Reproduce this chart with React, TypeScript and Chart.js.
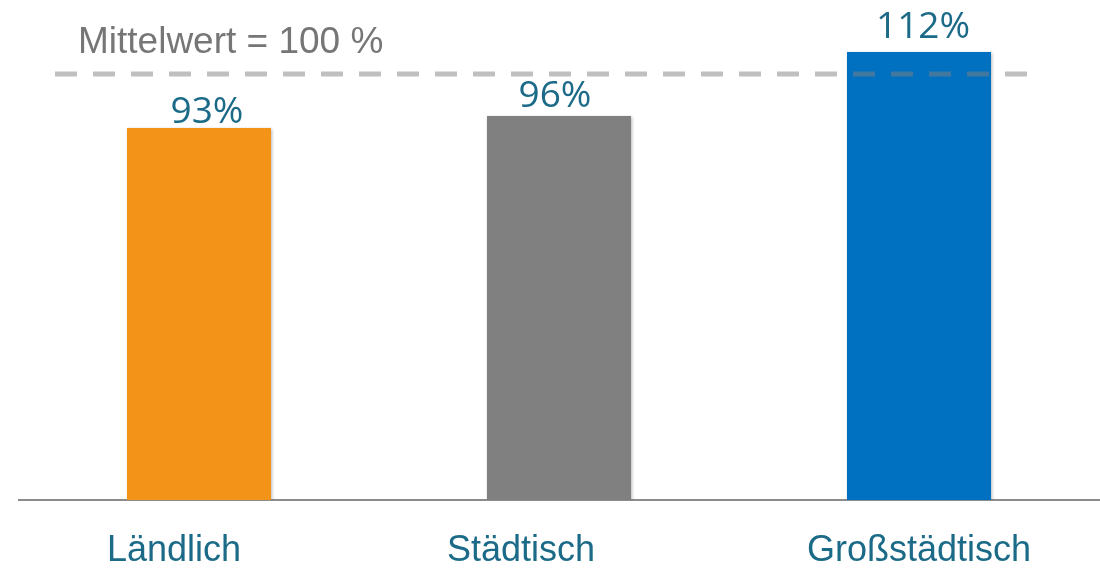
import React, { useEffect, useRef } from "react";
import { Chart, registerables } from "chart.js";

Chart.register(...registerables);

// ---- data ----
const categories = ["Ländlich", "Städtisch", "Großstädtisch"];
const values = [93, 96, 112];
const valueLabels = ["93%", "96%", "112%"];
const meanLabel = "Mittelwert = 100 %";
// the reference line is drawn at this height of the value axis
const meanLineValue = 106.5;
const yMin = 0;
const yMax = 125;

// ---- styles ----
const barColors = ["#F39419", "#808080", "#0070C0"];
const tealText = "#1B6A88";
const valueLabelGaps = [5, 9, 14];
const valueLabelShifts = [8, -4, 4];
const categoryLabelShifts = [-25, -38, 0];

const overlayPlugin = {
  id: "overlay",
  beforeDatasetsDraw(chart: any) {
    const ctx = chart.ctx;
    ctx.save();
    ctx.shadowColor = "rgba(0,0,0,0.28)";
    ctx.shadowBlur = 3;
    ctx.shadowOffsetX = 1;
    ctx.shadowOffsetY = 1;
  },
  afterDatasetsDraw(chart: any) {
    const ctx = chart.ctx;
    ctx.restore();
    const area = chart.chartArea;
    const y = chart.scales.y.getPixelForValue(meanLineValue);
    // dashed mean line on top of bars
    ctx.save();
    ctx.strokeStyle = "rgba(128,128,128,0.5)";
    ctx.lineWidth = 5;
    ctx.setLineDash([22, 16]);
    ctx.beginPath();
    ctx.moveTo(area.left + 36, y);
    ctx.lineTo(area.right - 70, y);
    ctx.stroke();
    ctx.restore();

    // mean label
    ctx.save();
    ctx.fillStyle = "#767676";
    ctx.font = "37px 'Liberation Sans', Arial, sans-serif";
    ctx.textAlign = "left";
    ctx.textBaseline = "alphabetic";
    ctx.fillText(meanLabel, area.left + 59, y - 21);
    ctx.restore();

    // value labels
    const meta = chart.getDatasetMeta(0);
    ctx.save();
    ctx.fillStyle = tealText;
    ctx.font = "37px 'Open Sans', sans-serif";
    ctx.textAlign = "center";
    ctx.textBaseline = "alphabetic";
    meta.data.forEach((bar: any, i: number) => {
      ctx.fillText(valueLabels[i], bar.x + valueLabelShifts[i], bar.y - valueLabelGaps[i]);
    });
    ctx.restore();

    // category labels
    const xs = chart.scales.x;
    ctx.save();
    ctx.fillStyle = tealText;
    ctx.font = "36px 'Liberation Sans', Arial, sans-serif";
    ctx.textAlign = "center";
    ctx.textBaseline = "alphabetic";
    categories.forEach((c, i) => {
      ctx.fillText(c, xs.getPixelForValue(i) + categoryLabelShifts[i], area.bottom + 61);
    });
    ctx.restore();
  },
};

export default function App() {
  const ref = useRef<HTMLCanvasElement | null>(null);
  useEffect(() => {
    if (!ref.current) return;
    const chart = new Chart(ref.current, {
      type: "bar",
      data: {
        labels: categories,
        datasets: [
          {
            data: values,
            backgroundColor: barColors,
            borderWidth: 0,
            categoryPercentage: 1,
            barPercentage: 0.4,
          },
        ],
      },
      options: {
        responsive: false,
        animation: false,
        layout: { padding: { left: 19, right: 1, top: 0, bottom: 0 } },
        plugins: {
          legend: { display: false },
          tooltip: { enabled: false },
        },
        scales: {
          x: {
            grid: { display: false, drawTicks: false },
            border: { display: true, color: "#8C8C8C", width: 2 },
            ticks: { display: false },
            afterFit: (s: any) => {
              s.height = 69;
            },
          },
          y: {
            display: false,
            min: yMin,
            max: yMax,
          },
        },
      },
      plugins: [overlayPlugin],
    });
    return () => chart.destroy();
  }, []);
  return (
    <div style={{ position: "absolute", left: 0, top: 0, width: 1100, height: 569, background: "#fff" }}>
      <canvas ref={ref} width={1100} height={569} style={{ display: "block" }} />
    </div>
  );
}
